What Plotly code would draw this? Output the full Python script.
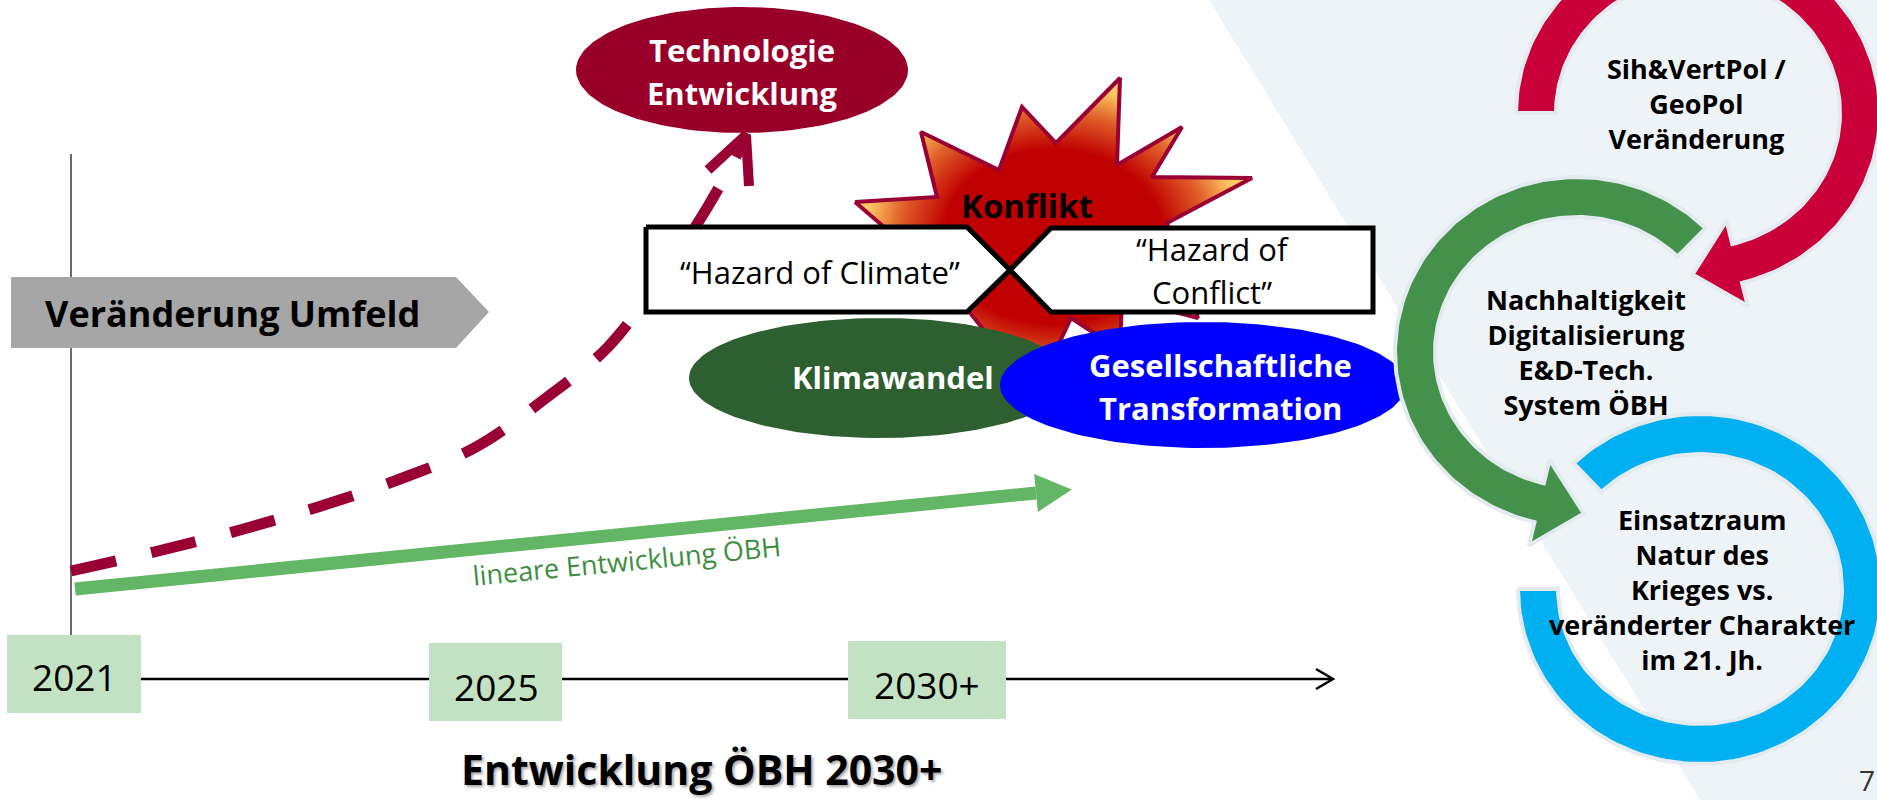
import numpy as np
import plotly.graph_objects as go

W, H = 1877, 800

# ---------------- texts / labels ----------------
years = ["2021", "2025", "2030+"]
title_text = "Entwicklung ÖBH 2030+"
environment_label = "Veränderung Umfeld"
linear_label = "lineare Entwicklung ÖBH"
tech_lines = ["Technologie", "Entwicklung"]
conflict_label = "Konflikt"
hazard_climate = "“Hazard of Climate”"
hazard_conflict = ["“Hazard of", "Conflict”"]
climate_label = "Klimawandel"
society_lines = ["Gesellschaftliche", "Transformation"]
cycle_red_lines = ["Sih&VertPol /", "GeoPol", "Veränderung"]
cycle_green_lines = ["Nachhaltigkeit", "Digitalisierung", "E&D-Tech.", "System ÖBH"]
cycle_blue_lines = ["Einsatzraum", "Natur des", "Krieges vs.", "veränderter Charakter", "im 21. Jh."]
page_number = "7"

# ---------------- paths ----------------
# non-linear (dashed) development path
curve_x = [71, 154, 240, 318, 400, 476, 546, 608, 660, 707, 742]
curve_y = [571, 552, 530, 507, 479, 447, 398, 347, 279, 208, 145]
# linear development arrow
linear_x = [75, 1036]
linear_y = [589, 493]
# conflict star outline
star_x = [855, 937, 921, 999, 1022, 1056, 1120, 1117, 1182, 1152, 1252, 1167,
          1198, 1122, 1120, 1071, 1035, 960, 880, 905]
star_y = [202, 197, 132, 170, 107, 143, 78, 165, 127, 177, 178, 223,
          318, 298, 350, 318, 395, 300, 305, 245]

# ---------------- layout positions ----------------
year_box_x0 = [7, 429, 848]
year_box_x1 = [141, 562, 1006]
year_box_y0 = [635, 643, 641]
year_box_y1 = [713, 721, 719]
year_text_y = [676, 686, 684]

RED = "#990033"
FONT = "Open Sans"


def ellipse(cx, cy, rx, ry, n=160):
    t = np.linspace(0, 2 * np.pi, n)
    return cx + rx * np.cos(t), cy + ry * np.sin(t)


def ring(cx, cy, t0, t1, arrow, rxo=182, ryo=175, rxi=142, ryi=135,
         head_half=44, head_len=46, n=160):
    t = np.radians(np.linspace(t0, t1, n))
    ox = cx + rxo * np.cos(t)
    oy = cy - ryo * np.sin(t)
    ix = cx + rxi * np.cos(t[::-1])
    iy = cy - ryi * np.sin(t[::-1])
    xs, ys = list(ox), list(oy)
    if arrow:
        te = np.radians(t1)
        mx = cx + (rxo + rxi) / 2 * np.cos(te)
        my = cy - (ryo + ryi) / 2 * np.sin(te)
        nx, ny = np.cos(te), -np.sin(te)
        sgn = 1 if t1 > t0 else -1
        dx, dy = -np.sin(te) * sgn, -np.cos(te) * sgn
        xs += [mx + nx * head_half, mx + dx * head_len, mx - nx * head_half]
        ys += [my + ny * head_half, my + dy * head_len, my - ny * head_half]
    xs += list(ix) + [ox[0]]
    ys += list(iy) + [oy[0]]
    return xs, ys


fig = go.Figure()


def poly(xs, ys, fill, line_color=None, line_width=0):
    fig.add_trace(go.Scatter(
        x=xs, y=ys, mode="lines", fill="toself", fillcolor=fill,
        line=dict(color=line_color or fill, width=line_width),
        hoverinfo="skip", showlegend=False))


def line(xs, ys, color, width, dash="solid", shape="linear"):
    fig.add_trace(go.Scatter(
        x=xs, y=ys, mode="lines",
        line=dict(color=color, width=width, dash=dash, shape=shape),
        hoverinfo="skip", showlegend=False))


# vertical axis line
line([71, 71], [154, 635], "#3a3a3a", 1.5)
# timeline with open arrow head
line([141, 1332], [679, 679], "#000000", 2.5)
line([1316, 1333, 1316], [669, 679, 689], "#000000", 2.5)
# year boxes
for x0, x1, y0, y1 in zip(year_box_x0, year_box_x1, year_box_y0, year_box_y1):
    poly([x0, x1, x1, x0, x0], [y0, y0, y1, y1, y0], "#C3E2C3")

# grey chevron
poly([11, 456, 489, 456, 11, 11], [277, 277, 312, 348, 348, 277], "#A6A6A6")

# linear development arrow
line(linear_x, linear_y, "#62B665", 13)
lx = np.array(linear_x, float); ly = np.array(linear_y, float)
d = np.array([lx[1] - lx[0], ly[1] - ly[0]]); d /= np.linalg.norm(d)
pnt = np.array([-d[1], d[0]])
bx, by = lx[1], ly[1]
poly([bx + pnt[0] * 19, bx + d[0] * 36, bx - pnt[0] * 19, bx + pnt[0] * 19],
     [by + pnt[1] * 19, by + d[1] * 36, by - pnt[1] * 19, by + pnt[1] * 19], "#62B665")

# dashed exponential development
line(curve_x, curve_y, RED, 11, dash="46px,36px", shape="spline")
line([708, 746, 749], [170, 135, 186], RED, 10)

# technology ellipse
ex, ey = ellipse(742, 70, 166, 63)
poly(ex, ey, "#990029")

# conflict star with radial gradient
fig.add_trace(go.Scatter(
    x=star_x + [star_x[0]], y=star_y + [star_y[0]], mode="lines", fill="toself",
    fillgradient=dict(type="radial",
                      colorscale=[[0, "#C00000"], [0.55, "#C00000"], [0.78, "#E0602A"],
                                  [0.95, "#FFC864"], [1, "#FFC864"]]),
    line=dict(color=RED, width=4), hoverinfo="skip", showlegend=False))

# hazard boxes
poly([646, 967, 1010, 967, 646, 646], [227, 227, 270, 312, 312, 227], "#FFFFFF", "#000000", 5)
poly([1010, 1051, 1373, 1373, 1051, 1010], [270, 228, 228, 312, 312, 270], "#FFFFFF", "#000000", 5)

# climate / society ellipses
ex, ey = ellipse(880, 378, 191, 60)
poly(ex, ey, "#2E5F30")
ex, ey = ellipse(1203, 385, 203, 63)
poly(ex, ey, "#0000FF")

# right side circular arrows
OUT = "#E3EBF1"
rx_, ry_ = ring(1700, 589, 180, 494, False)
poly(rx_, ry_, "#00B0F0", OUT, 4)
rx_, ry_ = ring(1577, 352, 45, 256.5, True)
poly(rx_, ry_, "#43914A", OUT, 4)
rx_, ry_ = ring(1698, 113, 180, -76, True)
poly(rx_, ry_, "#C9003A", OUT, 4)

# ---------------- annotations ----------------
ann = []


def txt(x, y, s, size, color="#000000", bold=False, family=FONT, angle=0, xanchor="center", shadow=None):
    f = dict(size=size, color=color, family=family, weight=700 if bold else 400)
    if shadow:
        f["shadow"] = shadow
    ann.append(dict(x=x, y=y, xref="x", yref="y", text=s, showarrow=False,
                    xanchor=xanchor, yanchor="middle", font=f, textangle=angle))


for yl, yy, xc in zip(years, year_text_y, [74, 496, 927]):
    txt(xc, yy, yl, 37)
txt(701, 769, title_text, 41, bold=True, shadow="2px 2px 3px rgba(0,0,0,0.35)")
txt(232, 313, environment_label, 36, bold=True)
txt(627, 560, linear_label, 27, color="#3E8E41", angle=-5.5)
for s, yy in zip(tech_lines, [50, 93]):
    txt(742, yy, s, 31, color="#FFFFFF", bold=True)
txt(1027, 205, conflict_label, 33, bold=True)
txt(820, 272, hazard_climate, 31)
for s, yy in zip(hazard_conflict, [249, 292]):
    txt(1212, yy, s, 31)
txt(893, 377, climate_label, 31, color="#FFFFFF", bold=True)
for s, yy in zip(society_lines, [365, 408]):
    txt(1220, yy, s, 31, color="#FFFFFF", bold=True)
txt(1697, 103, "<br>".join(cycle_red_lines), 27, bold=True)
txt(1586, 352, "<br>".join(cycle_green_lines), 27, bold=True)
txt(1702, 589, "<br>".join(cycle_blue_lines), 27, bold=True)
txt(1877, 780, page_number, 28, color="#333333", xanchor="right")

fig.update_layout(
    width=W, height=H, margin=dict(l=0, r=0, t=0, b=0),
    paper_bgcolor="#FFFFFF", plot_bgcolor="#FFFFFF",
    xaxis=dict(range=[0, W], visible=False, fixedrange=True),
    yaxis=dict(range=[H, 0], visible=False, fixedrange=True),
    shapes=[dict(type="path", path=f"M 1209 0 L {W} 0 L {W} {H} L 1700 {H} Z",
                 fillcolor="#EEF3F7", line=dict(width=0), layer="below",
                 xref="x", yref="y")],
    annotations=ann, showlegend=False,
)

fig.write_html("out.html", config={"displayModeBar": False, "staticPlot": True},
               post_script="document.body.style.margin='0';document.body.style.overflow='hidden';")
